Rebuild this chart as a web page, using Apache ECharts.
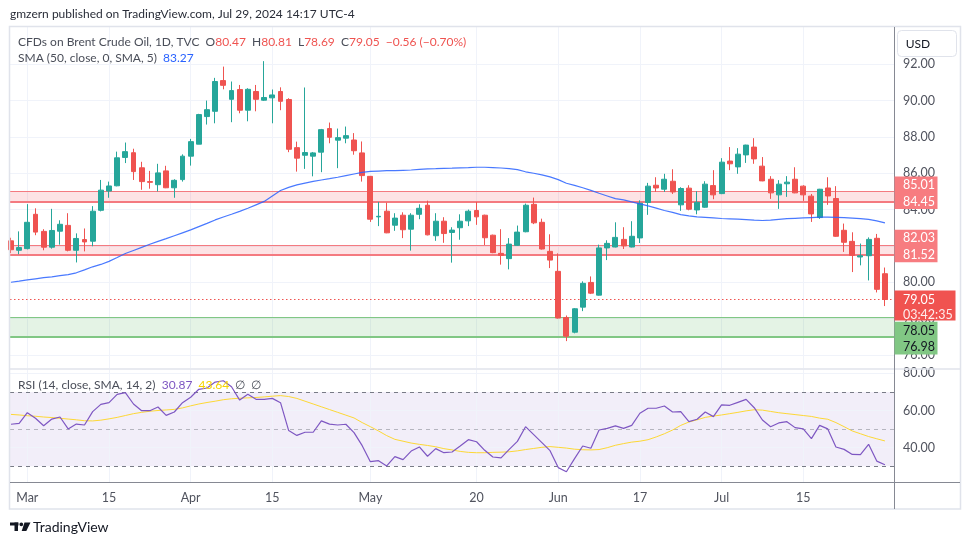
<!DOCTYPE html>
<html><head><meta charset="utf-8">
<script src="https://cdn.jsdelivr.net/npm/echarts@6/dist/echarts.min.js"></script>
<style>html,body{margin:0;padding:0;background:#fff}#c{width:970px;height:545px}</style>
</head><body><div id="c"></div>
<script>
// ---------- data ----------
const dates = ['02-28','02-29','03-01','03-04','03-05','03-06','03-07','03-08','03-11','03-12','03-13','03-14','03-15','03-18','03-19','03-20','03-21','03-22','03-25','03-26','03-27','03-28','04-01','04-02','04-03','04-04','04-05','04-08','04-09','04-10','04-11','04-12','04-15','04-16','04-17','04-18','04-19','04-22','04-23','04-24','04-25','04-26','04-29','04-30','05-01','05-02','05-03','05-06','05-07','05-08','05-09','05-10','05-13','05-14','05-15','05-16','05-17','05-20','05-21','05-22','05-23','05-24','05-27','05-28','05-29','05-30','05-31','06-03','06-04','06-05','06-06','06-07','06-10','06-11','06-12','06-13','06-14','06-17','06-18','06-19','06-20','06-21','06-24','06-25','06-26','06-27','06-28','07-01','07-02','07-03','07-04','07-05','07-08','07-09','07-10','07-11','07-12','07-15','07-16','07-17','07-18','07-19','07-22','07-23','07-24','07-25','07-26','07-29'];
const opens = [82.28,81.76,81.85,83.74,82.80,81.93,82.81,83.13,81.76,82.35,82.26,83.96,85.02,85.31,86.87,87.13,86.30,85.54,85.37,86.13,85.20,85.65,86.94,87.60,89.12,89.41,91.10,90.07,90.61,89.47,90.50,90.02,90.15,90.50,90.06,87.41,86.99,86.94,87.16,88.46,87.82,87.93,87.83,87.12,85.83,83.60,83.91,83.14,83.69,82.92,83.74,84.24,82.56,83.36,82.74,83.00,83.38,83.95,83.69,82.59,81.59,81.30,82.03,82.78,84.29,83.30,81.70,80.60,78.06,77.25,78.63,79.99,79.29,81.89,81.94,82.36,81.94,82.44,84.39,85.34,85.12,85.56,84.26,85.18,83.98,84.13,85.32,84.88,86.67,86.35,87.01,87.44,86.39,85.67,84.81,85.42,85.67,85.29,84.74,83.56,85.19,84.61,82.86,82.25,81.39,81.46,82.42,80.47];
const highs = [82.45,82.80,84.30,84.07,82.92,84.04,83.41,83.80,82.69,82.96,84.19,85.63,85.54,87.19,87.69,87.35,86.63,86.13,86.52,86.41,85.67,87.04,87.89,89.27,90.00,91.25,91.87,91.05,90.86,90.68,90.86,92.17,90.61,90.73,90.13,87.74,90.72,87.17,88.44,88.79,88.46,88.57,88.21,87.75,85.85,84.42,84.38,83.80,83.85,83.80,84.29,84.49,83.80,83.58,83.03,83.74,84.00,84.42,83.72,82.62,82.92,82.43,83.12,84.33,84.66,83.50,82.64,81.59,78.17,78.58,80.05,80.32,82.07,82.31,83.30,83.03,83.36,84.51,85.47,85.78,85.97,86.22,85.23,85.34,85.01,85.56,86.17,86.83,87.44,87.38,87.57,87.93,86.89,85.84,85.62,85.84,86.33,85.34,84.86,85.14,85.78,85.29,83.23,82.75,82.13,82.47,82.66,80.81];
const lows = [81.60,81.54,81.81,82.59,81.76,81.85,82.07,81.70,81.09,81.70,81.98,83.90,84.65,85.28,86.56,85.63,85.09,85.15,85.00,85.18,84.65,85.54,86.42,87.60,88.68,88.75,90.62,88.81,89.30,88.86,89.41,89.98,88.75,89.47,87.16,86.09,86.24,85.83,86.06,87.65,86.28,87.65,87.02,85.54,83.32,83.09,82.70,82.83,82.43,81.74,83.47,82.58,82.28,82.17,81.08,82.34,83.09,83.16,82.05,81.60,80.97,80.71,82.00,82.75,83.20,81.80,80.78,78.00,76.76,77.19,78.41,79.35,79.27,81.22,81.92,81.83,81.92,82.16,83.71,84.97,84.97,84.86,83.93,83.96,83.74,84.10,84.57,84.85,86.17,85.97,86.57,86.52,85.56,84.59,84.04,84.70,84.90,84.48,83.32,83.49,84.26,82.50,81.67,80.56,80.93,80.10,79.44,78.69];
const closes = [81.79,81.91,83.30,82.76,81.93,82.85,83.19,81.76,82.41,82.22,83.91,85.07,85.30,86.85,87.19,86.09,85.54,85.50,86.02,85.20,85.61,86.94,87.74,89.23,89.50,91.05,90.84,90.55,89.47,90.62,90.07,90.17,90.31,89.96,87.32,86.83,87.14,87.12,88.40,87.98,87.96,88.07,87.24,85.87,83.47,83.63,82.72,83.53,82.89,83.69,84.07,82.61,83.36,82.68,82.87,83.36,83.91,83.60,82.45,81.63,81.48,82.10,82.76,84.24,83.27,81.83,81.22,78.03,77.03,78.54,79.94,79.40,81.89,82.14,82.47,82.00,82.53,84.35,85.29,85.19,85.67,84.97,85.16,84.02,84.40,85.40,84.81,86.61,86.52,87.05,87.55,86.79,85.58,84.92,85.40,85.51,84.92,84.81,83.76,85.12,84.75,82.53,82.20,81.48,81.46,82.36,79.61,79.05];
const sma50 = [80.00,80.06,80.13,80.19,80.25,80.30,80.36,80.42,80.52,80.68,80.85,80.98,81.15,81.36,81.58,81.75,81.92,82.09,82.25,82.40,82.56,82.72,82.88,83.06,83.24,83.43,83.59,83.74,83.90,84.07,84.26,84.45,84.75,85.05,85.22,85.36,85.46,85.55,85.63,85.70,85.78,85.87,85.96,86.05,86.10,86.12,86.14,86.14,86.16,86.18,86.21,86.24,86.25,86.27,86.28,86.30,86.31,86.33,86.33,86.31,86.29,86.25,86.20,86.08,86.00,85.91,85.80,85.65,85.45,85.33,85.20,85.06,84.90,84.75,84.60,84.53,84.42,84.31,84.20,84.08,83.95,83.85,83.72,83.65,83.60,83.57,83.54,83.51,83.49,83.47,83.45,83.42,83.40,83.42,83.46,83.50,83.52,83.54,83.56,83.58,83.58,83.57,83.56,83.53,83.50,83.46,83.38,83.27];
const rsi = [52.6,53.1,58.8,55.8,51.8,55.4,56.5,50.1,52.7,52.2,59.4,63.3,64.2,68.7,69.6,63.5,59.9,59.9,61.9,57.4,59.2,64.2,67.1,71.4,72.1,75.3,76.0,72.8,65.6,68.7,66.0,66.0,66.5,64.2,49.2,46.6,48.3,48.3,54.4,52.7,52.2,52.6,48.1,41.1,32.5,33.0,30.2,35.2,33.6,38.2,40.4,35.4,39.5,37.3,37.7,40.9,44.3,43.2,38.6,35.0,34.5,39.1,43.4,51.3,47.0,42.7,38.4,29.3,27.1,34.1,40.9,39.7,49.5,50.4,51.7,50.4,52.0,58.5,61.2,61.2,62.4,59.2,59.4,54.0,55.3,59.2,56.7,63.0,62.8,64.4,66.0,61.5,54.9,51.3,53.3,54.0,50.8,50.1,44.9,52.0,50.1,40.4,39.1,36.4,36.3,41.8,32.8,30.87];
const rsiMa = [57.9,57.6,57.2,56.9,56.5,56.2,55.8,55.4,55.0,54.5,54.4,54.8,55.5,56.3,57.3,58.3,59.0,59.6,60.0,60.3,60.6,61.4,62.5,63.5,64.3,65.0,65.8,66.3,66.6,66.8,67.0,67.3,67.7,68.0,67.5,66.5,65.0,63.5,62.0,60.5,59.0,57.5,56.0,53.5,51.3,49.0,46.5,44.5,43.5,42.5,41.8,41.2,40.5,39.5,38.8,38.0,37.5,37.3,37.3,37.5,37.6,37.8,38.3,39.0,39.6,40.2,40.6,40.2,39.8,39.2,38.9,38.8,39.0,40.0,41.3,42.2,43.0,43.5,44.3,45.8,47.5,49.5,52.0,53.8,55.0,56.3,57.0,57.6,58.3,59.0,59.8,60.4,60.2,59.5,58.8,58.3,57.8,57.3,56.8,55.9,55.3,53.5,51.3,49.0,47.5,46.0,44.8,43.64];
const redZones = [[84.45, 85.01], [81.52, 82.03]];
const greenZone = [76.98, 78.05];
const countdown = '03:42:35';
const priceTicks = [76, 78, 80, 82, 84, 86, 88, 90, 92];
const rsiTicks = [40, 60, 80];
const rsiLevels = [70, 50, 30];
const tickDates = ['03-01','03-15','04-01','04-15','05-01','05-20','06-03','06-17','07-01','07-15'];
const tickLabels = ['Mar','15','Apr','15','May','20','Jun','17','Jul','15'];

// ---------- chart ----------
const FONT = 'Lato, "Liberation Sans", sans-serif';
const UP = '#26a69a', DOWN = '#ef5350';
const tickIdx = tickDates.map(d => dates.indexOf(d));
const labelOf = {}; tickIdx.forEach((i, k) => labelOf[i] = tickLabels[k]);
const XMIN = -0.12, XMAX = 108.11;
const chart = echarts.init(document.getElementById('c'), null, {renderer: 'canvas'});

const candleData = dates.map((d, i) => [i, opens[i], closes[i], lows[i], highs[i]]);
const gridColor = '#f0f3fa';

const option = {
  animation: false,
  backgroundColor: '#fff',
  grid: [
    {left: 10, right: 76, top: 27, height: 341},
    {left: 10, right: 76, top: 369.5, height: 112.5}
  ],
  xAxis: [
    {type: 'value', gridIndex: 0, min: XMIN, max: XMAX, show: false},
    {type: 'value', gridIndex: 1, min: XMIN, max: XMAX,
     axisLine: {show: false}, axisTick: {show: false, customValues: tickIdx}, splitLine: {show: false},
     axisLabel: {customValues: tickIdx, formatter: v => labelOf[Math.round(v)] || '', color: '#50535e',
                 fontSize: 12.5, fontFamily: FONT, margin: 9}}
  ],
  yAxis: [
    {type: 'value', gridIndex: 0, position: 'right', min: 75.28, max: 94.05, scale: true,
     axisLine: {show: false}, axisTick: {show: false, customValues: priceTicks}, splitLine: {show: false},
     axisLabel: {customValues: priceTicks, formatter: v => v.toFixed(2), color: '#50535e', fontSize: 12.5, fontFamily: FONT, margin: 9}},
    {type: 'value', gridIndex: 1, position: 'right', min: 21.56, max: 82.04,
     axisLine: {show: false}, axisTick: {show: false, customValues: rsiTicks}, splitLine: {show: false},
     axisLabel: {customValues: rsiTicks, formatter: v => v.toFixed(2), color: '#50535e', fontSize: 12.5, fontFamily: FONT, margin: 9}}
  ],
  series: [
    {type: 'line', xAxisIndex: 0, yAxisIndex: 0, data: [], silent: true, z: 0,
     markLine: {silent: true, symbol: 'none', z: 0.5, animation: false, label: {show: false},
       lineStyle: {color: gridColor, width: 1, type: 'solid'},
       data: priceTicks.map(v => ({yAxis: v})).concat(tickIdx.map(i => ({xAxis: i})))}},
    {type: 'line', xAxisIndex: 0, yAxisIndex: 0, data: [], silent: true, z: 1,
     markArea: {silent: true, z: 1,
       data: redZones.map(z => [{yAxis: z[0], itemStyle: {color: 'rgba(242,54,69,0.14)'}}, {yAxis: z[1]}])
             .concat([[{yAxis: greenZone[0], itemStyle: {color: 'rgba(76,175,80,0.15)'}}, {yAxis: greenZone[1]}]])},
     markLine: {silent: true, symbol: 'none', z: 1.5, label: {show: false},
       data: [].concat(...redZones.map(z => [
           {yAxis: z[0], lineStyle: {color: '#f47a80', width: 2, type: 'solid'}},
           {yAxis: z[1], lineStyle: {color: '#f47a80', width: 1, type: 'solid'}}]))
         .concat([
           {yAxis: greenZone[0], lineStyle: {color: '#81c784', width: 2, type: 'solid'}},
           {yAxis: greenZone[1], lineStyle: {color: '#81c784', width: 1.2, type: 'solid'}},
           {yAxis: closes[closes.length - 1], lineStyle: {color: DOWN, width: 1, type: [1.5, 2.5]}}])}},
    {type: 'candlestick', name: 'Brent', xAxisIndex: 0, yAxisIndex: 0, z: 3,
     encode: {x: 0, y: [1, 2, 3, 4]}, barWidth: 5.4, data: candleData,
     itemStyle: {color: UP, color0: DOWN, borderColor: UP, borderColor0: DOWN, borderWidth: 1}},
    {type: 'line', name: 'SMA', xAxisIndex: 0, yAxisIndex: 0, z: 4, showSymbol: false, silent: true,
     data: sma50.map((v, i) => [i, v]), lineStyle: {color: '#2962ff', width: 1.2, opacity: 0.85}},
    {type: 'line', xAxisIndex: 1, yAxisIndex: 1, data: [], silent: true, z: 0,
     markArea: {silent: true, z: 0.4, data: [[{yAxis: rsiLevels[2], itemStyle: {color: 'rgba(126,87,194,0.1)'}}, {yAxis: rsiLevels[0]}]]},
     markLine: {silent: true, symbol: 'none', z: 0.5, label: {show: false},
       lineStyle: {color: gridColor, width: 1, type: 'solid'},
       data: rsiTicks.map(v => ({yAxis: v})).concat(tickIdx.map(i => ({xAxis: i})))}},
    {type: 'line', xAxisIndex: 1, yAxisIndex: 1, data: [], silent: true, z: 1,
     markLine: {silent: true, symbol: 'none', z: 1, label: {show: false},
       data: [
         {yAxis: rsiLevels[0], lineStyle: {color: '#787b86', width: 1, type: [4, 4]}},
         {yAxis: rsiLevels[1], lineStyle: {color: 'rgba(120,123,134,0.5)', width: 1, type: [4, 4]}},
         {yAxis: rsiLevels[2], lineStyle: {color: '#787b86', width: 1, type: [4, 4]}}]}},
    {type: 'line', name: 'RSI MA', xAxisIndex: 1, yAxisIndex: 1, z: 3, showSymbol: false, silent: true,
     data: rsiMa.map((v, i) => [i, v]), lineStyle: {color: '#fdd835', width: 1}},
    {type: 'line', name: 'RSI', xAxisIndex: 1, yAxisIndex: 1, z: 4, showSymbol: false, silent: true,
     data: rsi.map((v, i) => [i, v]), lineStyle: {color: '#7e57c2', width: 1.2}}
  ]
};
chart.setOption(option);

// ---------- overlay texts / price-scale labels ----------
const yPix = v => chart.convertToPixel({yAxisIndex: 0}, v);
const last = closes.length - 1;
const chg = closes[last] - closes[last - 1];
const pct = chg / closes[last - 1] * 100;
const sgn = v => (v < 0 ? '\u2212' : '+') + Math.abs(v).toFixed(2);
const g = [];
const AX = 894.5;
g.push({type: 'rect', z: 100, shape: {x: 9.5, y: 26.5, width: 951, height: 482.5}, style: {fill: 'none', stroke: '#e0e3eb', lineWidth: 1.5}, silent: true});
g.push({type: 'line', z: 100, shape: {x1: 10, y1: 369, x2: 960, y2: 369}, style: {stroke: '#e0e3eb', lineWidth: 1.5}});
g.push({type: 'line', z: 100, shape: {x1: 10, y1: 482.5, x2: 960, y2: 482.5}, style: {stroke: '#868993', lineWidth: 1}});
g.push({type: 'line', z: 100, shape: {x1: AX, y1: 27, x2: AX, y2: 509}, style: {stroke: '#868993', lineWidth: 1}});
g.push({type: 'rect', z: 100, shape: {x: 897.5, y: 30.5, width: 59, height: 26, r: 4}, style: {fill: '#fff', stroke: '#e0e3eb', lineWidth: 1}});
g.push({type: 'text', z: 101, x: 918, y: 44, style: {text: 'USD', fill: '#131722', font: '12px ' + FONT, textAlign: 'center', textVerticalAlign: 'middle'}});
g.push({type: 'text', z: 101, x: 10, y: 14.5, style: {text: 'gmzern published on TradingView.com, Jul 29, 2024 14:17 UTC-4', fill: '#2a2e39', font: '12px ' + FONT, textVerticalAlign: 'middle'}});
const GRAY = '#4a4e59';
const rt = (segs, x, y) => {
  const rich = {};
  let text = '';
  segs.forEach((s, k) => { rich['s' + k] = {fill: s[1], font: '12px ' + FONT}; text += '{s' + k + '|' + s[0] + '}'; });
  g.push({type: 'text', z: 101, x: x, y: y, style: {text: text, rich: rich, font: '12px ' + FONT, textVerticalAlign: 'middle'}});
};
rt([['CFDs on Brent Crude Oil, 1D, TVC  ', GRAY], ['O', GRAY], [opens[last].toFixed(2) + '  ', DOWN], ['H', GRAY], [highs[last].toFixed(2) + '  ', DOWN],
    ['L', GRAY], [lows[last].toFixed(2) + '  ', DOWN], ['C', GRAY], [closes[last].toFixed(2) + '  ', DOWN],
    [sgn(chg) + ' (' + sgn(pct) + '%)', DOWN]], 18, 42.5);
rt([['SMA (50, close, 0, SMA, 5)  ', GRAY], [sma50[last].toFixed(2), '#2962ff']], 18, 58.5);
rt([['RSI (14, close, SMA, 14, 2)  ', GRAY], [rsi[last].toFixed(2) + '  ', '#7e57c2'], [rsiMa[last].toFixed(2) + '  ', '#f5d300'], ['\u2205  \u2205', GRAY]], 18, 385);
const boxText = (t, y, color) => g.push({type: 'text', z: 103, x: 903, y: y, style: {text: t, fill: color, font: '12.5px ' + FONT, textVerticalAlign: 'middle'}});
redZones.forEach(z => {
  const lo = yPix(z[0]) + 0.5;
  const hi = Math.min(yPix(z[1]), lo - 17);
  g.push({type: 'rect', z: 102, shape: {x: AX, y: hi - 8.5, width: 43, height: lo - hi + 15.5}, style: {fill: '#f77c80'}});
  boxText(z[1].toFixed(2), hi, '#fff');
  boxText(z[0].toFixed(2), lo, '#fff');
});
const cy = yPix(closes[last]);
g.push({type: 'rect', z: 102, shape: {x: AX, y: cy - 9, width: 61, height: 30}, style: {fill: '#f05350'}});
boxText(closes[last].toFixed(2), cy, '#fff');
boxText(countdown, cy + 15, 'rgba(255,255,255,0.9)');
const gHi = Math.max(yPix(greenZone[1]), cy + 21 + 10);
const gLo = Math.max(yPix(greenZone[0]), gHi + 16.7);
g.push({type: 'rect', z: 102, shape: {x: AX, y: gHi - 8.7, width: 43, height: gLo - gHi + 16}, style: {fill: '#81c784'}});
boxText(greenZone[1].toFixed(2), gHi, '#131722');
boxText(greenZone[0].toFixed(2), gLo, '#131722');
g.push({type: 'rect', z: 101, shape: {x: 10, y: 522.5, width: 8.5, height: 3}, style: {fill: '#131722'}});
g.push({type: 'rect', z: 101, shape: {x: 14.5, y: 522.5, width: 3.5, height: 8.5}, style: {fill: '#131722'}});
g.push({type: 'circle', z: 101, shape: {cx: 21.3, cy: 524.3, r: 1.9}, style: {fill: '#131722'}});
g.push({type: 'polygon', z: 101, shape: {points: [[24.5, 522.5], [30.5, 522.5], [26.3, 531], [21.7, 531]]}, style: {fill: '#131722'}});
g.push({type: 'text', z: 101, x: 33, y: 527, style: {text: 'TradingView', fill: '#131722', font: '14px ' + FONT, textVerticalAlign: 'middle'}});
chart.setOption({graphic: {elements: g}});
</script>
</body></html>
